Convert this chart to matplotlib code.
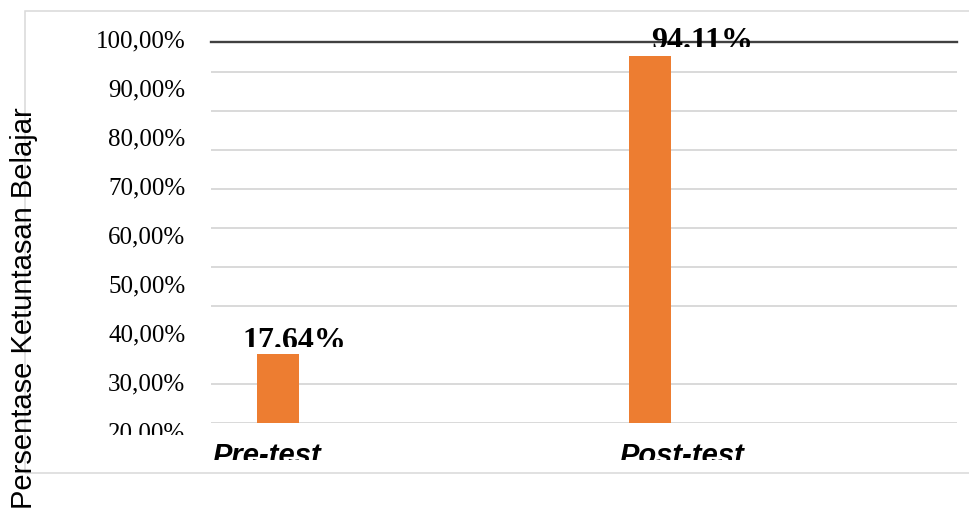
import numpy as np
import matplotlib
matplotlib.use("Agg")
import matplotlib.pyplot as plt
from matplotlib.patches import Rectangle
from matplotlib.transforms import Bbox, blended_transform_factory

# data
categories = ["Pre-test", "Post-test"]
values = [17.64, 94.11]
value_labels = ["17.64%", "94.11%"]
grid_vals = [0, 10, 30, 40, 50, 60, 70, 80, 90]   # the 20 line is missing in the original
tick_vals = list(range(20, 101, 10))
tick_labels = [f"{v},00%" for v in tick_vals]

W, H = 970, 508
ORANGE = "#ED7D31"
GRID = "#d9d9d9"
SERIF = "Liberation Serif"
SANS = "Liberation Sans"

fig = plt.figure(figsize=(W / 100, H / 100), dpi=100)

def fx(px):
    return px / W

def fy(py):
    return 1 - py / H

# outer chart frame, runs off the right edge
fig.add_artist(Rectangle((fx(25), fy(473)), 1.2, fy(11) - fy(473),
                         transform=fig.transFigure, fill=False,
                         edgecolor=GRID, lw=1.1, zorder=0))

# plot area
ax = fig.add_axes([fx(211), fy(423), fx(957) - fx(211), fy(41.7) - fy(423)])
ax.set_facecolor("none")
x = np.arange(len(categories))
ax.bar(x, values, width=0.113, color=ORANGE, zorder=3)
ax.set_xlim(-0.180, 1.825)
ax.set_ylim(0, 97.8)
ax.set_yticks(grid_vals)
ax.set_yticklabels([])
ax.set_xticks([])
ax.grid(axis="y", color=GRID, lw=1.4, zorder=0)
ax.tick_params(length=0)
for s in ["left", "right", "bottom"]:
    ax.spines[s].set_visible(False)
ax.spines["top"].set_color("#404040")
ax.spines["top"].set_linewidth(1.7)

# category labels (bottom cut off like in the original)
cat_shift = [-0.03, 1.086 - 1]
cat_clip = Bbox.from_extents(0, H - 460, W, H)
tr = blended_transform_factory(ax.transData, ax.transAxes)
for i, name in enumerate(categories):
    t = ax.text(x[i] + cat_shift[i], -0.108, name, transform=tr,
                ha="center", va="baseline", fontsize=21,
                fontweight="bold", fontstyle="italic", family=SANS,
                clip_on=True)
    t.set_clip_box(cat_clip)

# value labels above the bars
lab_off = [(16, 5), (52, 7)]   # pixels right / up from bar top
lab_clip = [347, 47]
for i, lab in enumerate(value_labels):
    dx, dy = lab_off[i]
    t = ax.annotate(lab, xy=(x[i], values[i]),
                    xytext=(dx * 0.72, dy * 0.72), textcoords="offset points",
                    ha="center", va="baseline", fontsize=23,
                    fontweight="bold", family=SERIF, zorder=5,
                    annotation_clip=False)
    t.set_clip_on(True)
    t.set_clip_box(Bbox.from_extents(0, H - lab_clip[i], W, H))

# the percentage scale on the left (its own spacing, as in the original)
lax = fig.add_axes([fx(211), fy(431), 0.001, fy(38.5) - fy(431)])
lax.set_facecolor("none")
lax.set_ylim(20, 100)
lax.set_yticks(tick_vals)
lax.set_yticklabels(tick_labels, fontsize=18, family=SERIF)
lax.set_xticks([])
lax.tick_params(length=0, pad=18.5)
for s in lax.spines.values():
    s.set_visible(False)
tick_clip = Bbox.from_extents(0, H - 435, W, H)
for t in lax.get_yticklabels():
    t.set_clip_on(True)
    t.set_clip_box(tick_clip)

fig.text(fx(24), fy(308), "Persentase Ketuntasan Belajar", rotation=90,
         ha="center", va="center", fontsize=21, family=SANS)

fig.savefig("out.png", dpi=100)
